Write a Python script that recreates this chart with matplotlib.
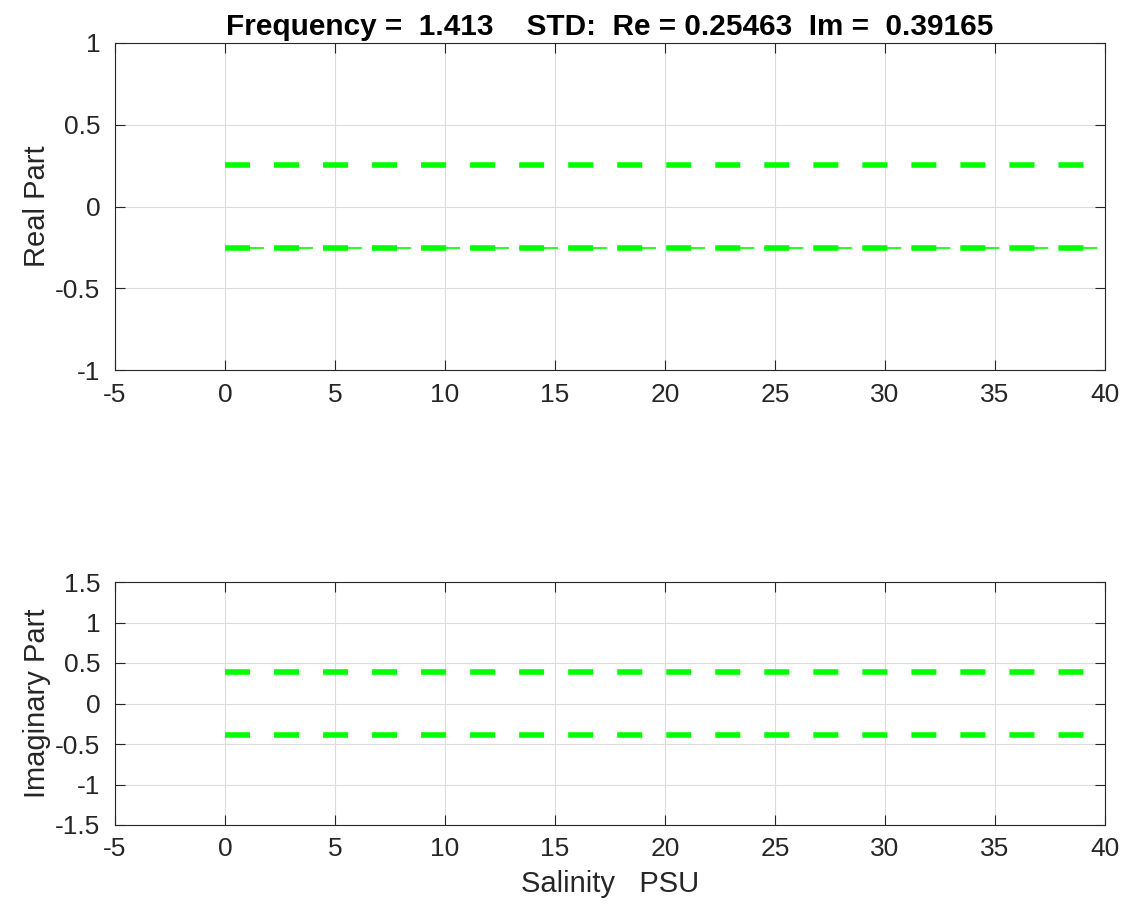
import numpy as np
import matplotlib.pyplot as plt

plt.rcParams['font.family'] = ['Liberation Sans', 'DejaVu Sans']
plt.rcParams['lines.scale_dashes'] = False
plt.rcParams['axes.unicode_minus'] = False

# salinity axis and the std bands
salinity = [0, 40]
freq = 1.413
std_re = 0.25463
std_im = 0.39165

green = '#00ff00'

fig = plt.figure(figsize=(11.45, 9.08), dpi=100)
ax1 = fig.add_axes([115/1145, 1-370/908, 990/1145, 327/908])
ax2 = fig.add_axes([115/1145, 1-825/908, 990/1145, 243/908])


def band(ax, s, thin=False):
    # thick dashes on both bounds, optional thin dashed line under the lower one
    if thin:
        ax.plot(salinity, [-s, -s], color=green, lw=1.2, dashes=(28, 7.3), zorder=3)
    for v in (s, -s):
        ax.plot(salinity, [v, v], color=green, lw=4, dashes=(18, 17.3), zorder=4)


band(ax1, std_re, thin=True)
band(ax2, std_im)

for ax in (ax1, ax2):
    ax.set_xlim(-5, 40)
    ax.set_xticks(np.arange(-5, 41, 5))
    ax.grid(True, color='#dcdcdc', lw=0.8)
    ax.set_axisbelow(True)
    ax.tick_params(direction='in', top=True, right=True, labelsize=19,
                   length=7, width=0.8, colors='#262626')
    ax.tick_params(axis='x', pad=9)
    ax.tick_params(axis='y', pad=10.5)
    for sp in ax.spines.values():
        sp.set_color('#262626')
        sp.set_linewidth(0.8)

ax1.set_ylim(-1, 1)
ax1.set_yticks([-1, -0.5, 0, 0.5, 1])
ax1.set_yticklabels(['-1', '-0.5', '0', '0.5', '1'])
ax2.set_ylim(-1.5, 1.5)
ax2.set_yticks(np.arange(-1.5, 1.51, 0.5))
ax2.set_yticklabels(['-1.5', '-1', '-0.5', '0', '0.5', '1', '1.5'])

ax1.set_ylabel('Real Part', fontsize=21, color='#262626', labelpad=3)
ax2.set_ylabel('Imaginary Part', fontsize=21, color='#262626', labelpad=3)
ax2.set_xlabel('Salinity   PSU', fontsize=21, color='#262626', labelpad=6)
ax1.set_title(f'Frequency =  {freq}    STD:  Re = {std_re}  Im =  {std_im}',
              fontsize=21.4, fontweight='bold', pad=6)

fig.savefig('out.png', dpi=100)
